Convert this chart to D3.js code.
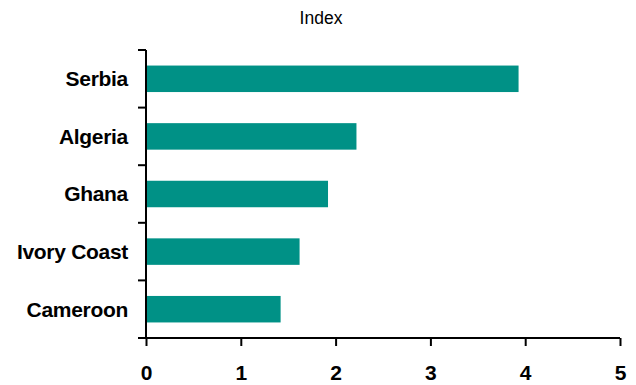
<!DOCTYPE html>
<html>
<head>
<meta charset="utf-8">
<script src="https://cdn.jsdelivr.net/npm/d3@7"></script>
<style>
  html, body { margin: 0; padding: 0; background: #fff; }
  svg { display: block; }
</style>
</head>
<body>
<svg id="chart" width="636" height="385"></svg>
<script>
// Index values by country
const countries = ["Serbia", "Algeria", "Ghana", "Ivory Coast", "Cameroon"];
const indexValues = [3.93, 2.22, 1.92, 1.62, 1.42];
const xTicks = [0, 1, 2, 3, 4, 5];
const unitLabel = "Index";

const svg = d3.select("#chart");
const plot = { left: 146, right: 620, top: 50, bottom: 338 };
const barColor = "#009186";
const font = "'Liberation Sans', Arial, sans-serif";

const x = d3.scaleLinear().domain([0, 5]).range([plot.left, plot.right]);
const y = d3.scaleBand().domain(countries).range([plot.top, plot.bottom]).paddingInner(0.54).paddingOuter(0.27);

const data = countries.map((c, i) => ({ country: c, value: indexValues[i] }));

// bars
svg.append("g").selectAll("rect")
  .data(data)
  .enter().append("rect")
  .attr("x", x(0))
  .attr("y", d => y(d.country))
  .attr("width", d => x(d.value) - x(0))
  .attr("height", y.bandwidth())
  .attr("fill", barColor);

// category axis: ticks at band boundaries, labels at band centres
const step = (plot.bottom - plot.top) / countries.length;
const yAxisG = svg.append("g");
yAxisG.append("line")
  .attr("x1", plot.left).attr("x2", plot.left)
  .attr("y1", plot.top).attr("y2", plot.bottom)
  .attr("stroke", "#000").attr("stroke-width", 2);
yAxisG.selectAll("line.tick")
  .data(d3.range(countries.length + 1))
  .enter().append("line")
  .attr("class", "tick")
  .attr("x1", plot.left - 8).attr("x2", plot.left)
  .attr("y1", i => plot.top + i * step).attr("y2", i => plot.top + i * step)
  .attr("stroke", "#000").attr("stroke-width", 2);
yAxisG.selectAll("text")
  .data(countries)
  .enter().append("text")
  .attr("x", plot.left - 18)
  .attr("y", d => y(d) + y.bandwidth() / 2)
  .attr("dy", "0.35em")
  .attr("text-anchor", "end")
  .attr("font-family", font)
  .attr("font-weight", "bold")
  .attr("font-size", 21)
  .attr("letter-spacing", -0.3)
  .attr("fill", "#000")
  .text(d => d);

// value axis
const xAxis = d3.axisBottom(x).tickValues(xTicks).tickSize(8).tickPadding(19).tickFormat(d3.format("d"));
const xAxisG = svg.append("g")
  .attr("transform", `translate(0,${plot.bottom})`)
  .call(xAxis);
xAxisG.select(".domain")
  .attr("d", `M${plot.left - 8},0H${plot.right}`)
  .attr("stroke-width", 2);
xAxisG.selectAll(".tick line").attr("stroke-width", 2);
xAxisG.selectAll(".tick text")
  .attr("font-family", font)
  .attr("font-weight", "bold")
  .attr("font-size", 21)
  .attr("fill", "#000");

// unit label
svg.append("text")
  .attr("x", 321)
  .attr("y", 24)
  .attr("text-anchor", "middle")
  .attr("font-family", font)
  .attr("font-size", 17.5)
  .attr("fill", "#000")
  .text(unitLabel);
</script>
</body>
</html>
